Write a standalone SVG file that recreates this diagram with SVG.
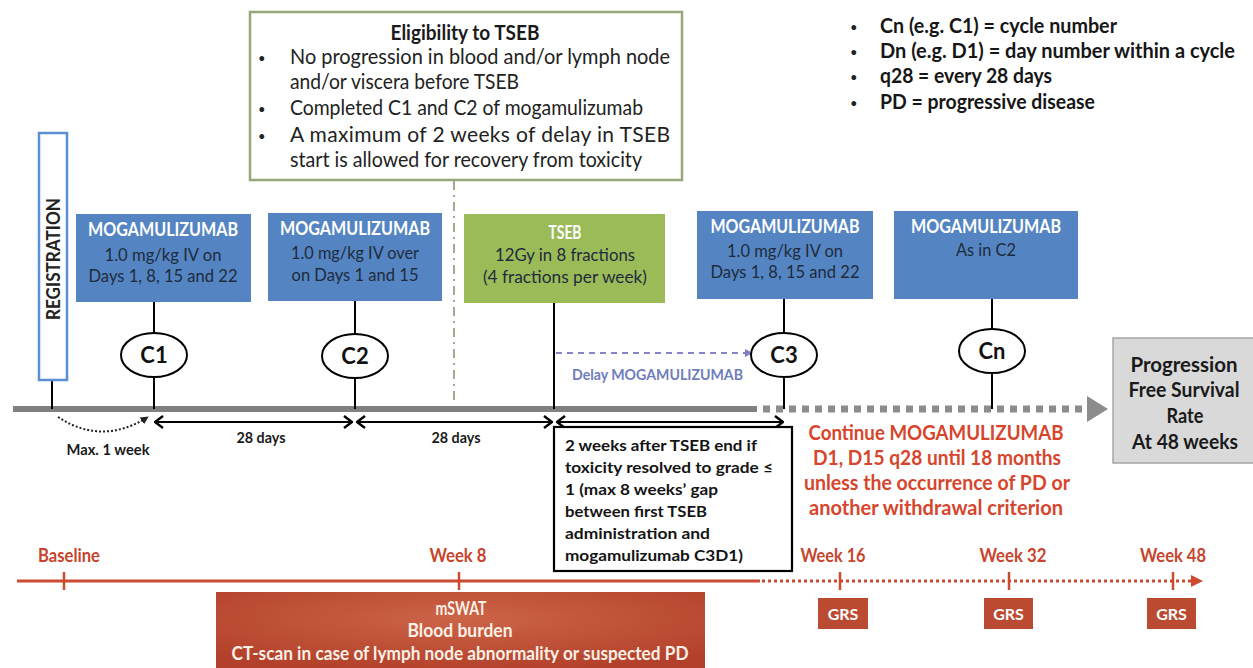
<svg xmlns="http://www.w3.org/2000/svg" width="1253" height="668" viewBox="0 0 1253 668">
<defs>
<style>
text{font-family:Lato,'Liberation Sans',sans-serif;}
.b{font-weight:bold}
.box{fill:#5485c2}
.wt{fill:#ffffff;font-weight:bold;font-size:18px;text-anchor:middle}
.dk{fill:#1e2b3c;font-size:18px;text-anchor:middle}
.cyc{fill:#ffffff;stroke:#000;stroke-width:2}
.ct{font-size:22px;font-weight:bold;text-anchor:middle;fill:#111}
.vl{stroke:#000;stroke-width:2}
.el{font-size:21px;fill:#222}
.bul{font-size:13px;fill:#222}
.lg{font-size:20px;font-weight:bold;fill:#161616}
.tw{font-size:16px;font-weight:bold;fill:#141414}
.cont{font-size:21px;font-weight:bold;fill:#d6452c;text-anchor:middle}
.wk{font-size:18px;font-weight:bold;fill:#c8452d;text-anchor:middle}
.grs{fill:#bb4a32}
.grst{font-size:16px;font-weight:bold;fill:#fff;text-anchor:middle}
.ms{font-size:18px;font-weight:bold;fill:#fdf0e6;text-anchor:middle}
.lbl{font-size:15.5px;font-weight:bold;fill:#1a1a1a;text-anchor:middle}
.dbl{stroke:#000;stroke-width:2.2;fill:none;marker-start:url(#chev);marker-end:url(#chev)}
.tick{stroke:#cc4a30;stroke-width:2.5}
</style>
<marker id="chev" viewBox="0 0 10 14" refX="9" refY="7" markerWidth="10" markerHeight="14" markerUnits="userSpaceOnUse" orient="auto-start-reverse">
<path d="M1,1 L9,7 L1,13" fill="none" stroke="#000" stroke-width="2.4"/>
</marker>
<marker id="tri" viewBox="0 0 10 10" refX="9" refY="5" markerWidth="8" markerHeight="8" markerUnits="userSpaceOnUse" orient="auto">
<path d="M0,0 L10,5 L0,10 Z" fill="#7f7fc4"/>
</marker>
<marker id="triK" viewBox="0 0 10 10" refX="9" refY="5" markerWidth="8" markerHeight="8" markerUnits="userSpaceOnUse" orient="auto">
<path d="M0,0 L10,5 L0,10 Z" fill="#222"/>
</marker>
<radialGradient id="msg" cx="0.5" cy="0.35" r="0.7">
<stop offset="0" stop-color="#cc6448"/>
<stop offset="1" stop-color="#b3402a"/>
</radialGradient>
</defs>
<rect width="1253" height="668" fill="#ffffff"/>

<g id="connectors">
<line x1="13" y1="409" x2="757" y2="409" stroke="#808080" stroke-width="6"/>
<line x1="763" y1="409" x2="1086" y2="409" stroke="#8c8c8c" stroke-width="7" stroke-dasharray="7 6"/>
<path d="M1087,396 L1108,409 L1087,422 Z" fill="#8c8c8c"/>
<line x1="454" y1="181" x2="454" y2="405" stroke="#a8a890" stroke-width="2" stroke-dasharray="9 5 2 5"/>
<line class="vl" x1="52" y1="380" x2="52" y2="409"/>
<line class="vl" x1="154" y1="302" x2="154" y2="333"/>
<line class="vl" x1="154" y1="377" x2="154" y2="409"/>
<line class="vl" x1="355" y1="301" x2="355" y2="334"/>
<line class="vl" x1="355" y1="378" x2="355" y2="409"/>
<line class="vl" x1="554" y1="303" x2="554" y2="409"/>
<line class="vl" x1="784" y1="299" x2="784" y2="333"/>
<line class="vl" x1="784" y1="377" x2="784" y2="409"/>
<line class="vl" x1="992" y1="299" x2="992" y2="329"/>
<line class="vl" x1="992" y1="373" x2="992" y2="409"/>
<line x1="556" y1="353" x2="752" y2="353" stroke="#8585c8" stroke-width="1.8" stroke-dasharray="6 5" marker-end="url(#tri)"/>
<line class="dbl" x1="155" y1="422" x2="352" y2="422"/>
<line class="dbl" x1="357" y1="422" x2="552" y2="422"/>
<line class="dbl" x1="557" y1="422" x2="783" y2="422"/>
<path d="M58,417 Q102,446 148,417" fill="none" stroke="#222" stroke-width="2" stroke-dasharray="2 2" marker-end="url(#triK)"/>
<line x1="17" y1="581" x2="760" y2="581" stroke="#cc4a30" stroke-width="3"/>
<line x1="762" y1="581" x2="1192" y2="581" stroke="#cc4a30" stroke-width="3" stroke-dasharray="3 3"/>
<path d="M1191,575 L1203,581 L1191,587 Z" fill="#cc4a30"/>
<line class="tick" x1="64" y1="572" x2="64" y2="590"/>
<line class="tick" x1="459" y1="572" x2="459" y2="590"/>
<line class="tick" x1="840" y1="572" x2="840" y2="590"/>
<line class="tick" x1="1009" y1="572" x2="1009" y2="590"/>
<line class="tick" x1="1173" y1="572" x2="1173" y2="590"/>
</g>

<g id="registration">
<rect x="39" y="133" width="28" height="247" fill="#fff" stroke="#5b8fd3" stroke-width="2.5"/>
<text transform="translate(60,259) rotate(-90)" class="b" font-size="19.5" text-anchor="middle" textLength="122" lengthAdjust="spacingAndGlyphs" fill="#222">REGISTRATION</text>
</g>

<g id="eligibility">
<rect x="250" y="12" width="432" height="168" fill="#fff" stroke="#94a878" stroke-width="2.5"/>
<text x="465" y="40" class="b" font-size="21" text-anchor="middle" fill="#1a1a1a" textLength="149" lengthAdjust="spacingAndGlyphs">Eligibility to TSEB</text>
<text x="258" y="63" class="bul">•</text>
<text x="290" y="64" class="el" textLength="380" lengthAdjust="spacingAndGlyphs">No progression in blood and/or lymph node</text>
<text x="290" y="89" class="el" textLength="229" lengthAdjust="spacingAndGlyphs">and/or viscera before TSEB</text>
<text x="258" y="114" class="bul">•</text>
<text x="290" y="115" class="el" textLength="353" lengthAdjust="spacingAndGlyphs">Completed C1 and C2 of mogamulizumab</text>
<text x="258" y="141" class="bul">•</text>
<text x="290" y="142" class="el" textLength="380" lengthAdjust="spacing">A maximum of 2 weeks of delay in TSEB</text>
<text x="290" y="167" class="el" textLength="352" lengthAdjust="spacingAndGlyphs">start is allowed for recovery from toxicity</text>
</g>

<g id="legend">
<text x="850" y="32" class="bul">•</text>
<text x="880" y="33" class="lg" textLength="237" lengthAdjust="spacingAndGlyphs">Cn (e.g. C1) = cycle number</text>
<text x="850" y="57" class="bul">•</text>
<text x="880" y="58" class="lg" textLength="355" lengthAdjust="spacingAndGlyphs">Dn (e.g. D1) = day number within a cycle</text>
<text x="850" y="82" class="bul">•</text>
<text x="880" y="83" class="lg" textLength="172" lengthAdjust="spacingAndGlyphs">q28 = every 28 days</text>
<text x="850" y="108" class="bul">•</text>
<text x="880" y="109" class="lg" textLength="215" lengthAdjust="spacingAndGlyphs">PD = progressive disease</text>
</g>

<g id="c1-box">
<rect class="box" x="76" y="214" width="175" height="88"/>
<text class="wt" x="163" y="236" textLength="150" lengthAdjust="spacingAndGlyphs">MOGAMULIZUMAB</text>
<text class="dk" x="163" y="261" textLength="117" lengthAdjust="spacingAndGlyphs">1.0 mg/kg IV on</text>
<text class="dk" x="163" y="282" textLength="149" lengthAdjust="spacingAndGlyphs">Days 1, 8, 15 and 22</text>
</g>
<g id="c2-box">
<rect class="box" x="268" y="213" width="174" height="88"/>
<text class="wt" x="355" y="235" textLength="150" lengthAdjust="spacingAndGlyphs">MOGAMULIZUMAB</text>
<text class="dk" x="355" y="259" textLength="128" lengthAdjust="spacingAndGlyphs">1.0 mg/kg IV over</text>
<text class="dk" x="355" y="281" textLength="127" lengthAdjust="spacingAndGlyphs">on Days 1 and 15</text>
</g>
<g id="tseb-box">
<rect x="464" y="214" width="201" height="89" fill="#9bbb59"/>
<text class="wt" x="565" y="239" textLength="33" lengthAdjust="spacingAndGlyphs">TSEB</text>
<text class="dk" x="565" y="261" textLength="140" lengthAdjust="spacingAndGlyphs">12Gy in 8 fractions</text>
<text class="dk" x="565" y="283" textLength="164" lengthAdjust="spacingAndGlyphs">(4 fractions per week)</text>
</g>
<g id="c3-box">
<rect class="box" x="697" y="211" width="176" height="88"/>
<text class="wt" x="785" y="233" textLength="149" lengthAdjust="spacingAndGlyphs">MOGAMULIZUMAB</text>
<text class="dk" x="785" y="257" textLength="116" lengthAdjust="spacingAndGlyphs">1.0 mg/kg IV on</text>
<text class="dk" x="785" y="278" textLength="149" lengthAdjust="spacingAndGlyphs">Days 1, 8, 15 and 22</text>
</g>
<g id="cn-box">
<rect class="box" x="894" y="211" width="184" height="88"/>
<text class="wt" x="986" y="233" textLength="150" lengthAdjust="spacingAndGlyphs">MOGAMULIZUMAB</text>
<text class="dk" x="986" y="256" textLength="60" lengthAdjust="spacingAndGlyphs">As in C2</text>
</g>

<g id="c1"><ellipse class="cyc" cx="154" cy="355" rx="33" ry="22"/><text class="ct" x="154" y="363">C1</text></g>
<g id="c2"><ellipse class="cyc" cx="355" cy="356" rx="33" ry="22"/><text class="ct" x="355" y="364">C2</text></g>
<g id="c3"><ellipse class="cyc" cx="784" cy="355" rx="33" ry="22"/><text class="ct" x="784" y="363">C3</text></g>
<g id="cn"><ellipse class="cyc" cx="992" cy="351" rx="33" ry="22"/><text class="ct" x="992" y="359">Cn</text></g>

<g id="labels">
<text x="572" y="380" class="b" font-size="15" fill="#6f7dbd" textLength="171" lengthAdjust="spacingAndGlyphs">Delay MOGAMULIZUMAB</text>
<text class="lbl" x="261" y="443" textLength="49" lengthAdjust="spacingAndGlyphs">28 days</text>
<text class="lbl" x="456" y="443" textLength="49" lengthAdjust="spacingAndGlyphs">28 days</text>
<text class="lbl" x="108" y="455" textLength="83" lengthAdjust="spacingAndGlyphs">Max. 1 week</text>
</g>

<g id="delay-box">
<rect x="554" y="427" width="238" height="144" fill="#fff" stroke="#000" stroke-width="2.2"/>
<text class="tw" x="565" y="451" textLength="192" lengthAdjust="spacingAndGlyphs">2 weeks after TSEB end if</text>
<text class="tw" x="565" y="473" textLength="208" lengthAdjust="spacingAndGlyphs">toxicity resolved to grade ≤</text>
<text class="tw" x="565" y="495" textLength="153" lengthAdjust="spacingAndGlyphs">1 (max 8 weeks’ gap</text>
<text class="tw" x="565" y="517" textLength="142" lengthAdjust="spacingAndGlyphs">between first TSEB</text>
<text class="tw" x="565" y="539" textLength="145" lengthAdjust="spacingAndGlyphs">administration and</text>
<text class="tw" x="565" y="561" textLength="178" lengthAdjust="spacingAndGlyphs">mogamulizumab C3D1)</text>
</g>

<g id="continue">
<text class="cont" x="936" y="440" textLength="255" lengthAdjust="spacingAndGlyphs">Continue MOGAMULIZUMAB</text>
<text class="cont" x="937" y="465" textLength="248" lengthAdjust="spacingAndGlyphs">D1, D15 q28 until 18 months</text>
<text class="cont" x="937" y="490" textLength="266" lengthAdjust="spacingAndGlyphs">unless the occurrence of PD or</text>
<text class="cont" x="936" y="515" textLength="254" lengthAdjust="spacingAndGlyphs">another withdrawal criterion</text>
</g>

<g id="pfs">
<rect x="1113" y="338" width="141" height="125" fill="#d9d9d9" stroke="#a6a6a6" stroke-width="1.5"/>
<text x="1184" y="372" class="b" font-size="21.5" text-anchor="middle" fill="#1a1a1a" textLength="107" lengthAdjust="spacingAndGlyphs">Progression</text>
<text x="1184" y="397" class="b" font-size="21.5" text-anchor="middle" fill="#1a1a1a" textLength="111" lengthAdjust="spacingAndGlyphs">Free Survival</text>
<text x="1185" y="423" class="b" font-size="21.5" text-anchor="middle" fill="#1a1a1a" textLength="37" lengthAdjust="spacingAndGlyphs">Rate</text>
<text x="1185" y="449" class="b" font-size="21.5" text-anchor="middle" fill="#1a1a1a" textLength="106" lengthAdjust="spacingAndGlyphs">At 48 weeks</text>
</g>

<g id="week-labels">
<text class="wk" x="69" y="562" textLength="62" lengthAdjust="spacingAndGlyphs">Baseline</text>
<text class="wk" x="458" y="562" textLength="57" lengthAdjust="spacingAndGlyphs">Week 8</text>
<text class="wk" x="833" y="562" textLength="65" lengthAdjust="spacingAndGlyphs">Week 16</text>
<text class="wk" x="1013" y="562" textLength="67" lengthAdjust="spacingAndGlyphs">Week 32</text>
<text class="wk" x="1173" y="562" textLength="66" lengthAdjust="spacingAndGlyphs">Week 48</text>
</g>

<g id="assessment">
<rect x="216" y="592" width="489" height="76" fill="url(#msg)"/>
<text class="ms" x="461" y="615" textLength="51" lengthAdjust="spacingAndGlyphs">mSWAT</text>
<text class="ms" x="460" y="637" textLength="105" lengthAdjust="spacingAndGlyphs">Blood burden</text>
<text class="ms" x="460" y="660" textLength="457" lengthAdjust="spacingAndGlyphs">CT-scan in case of lymph node abnormality or suspected PD</text>
</g>

<g id="grs16"><rect class="grs" x="818" y="598" width="50" height="31"/><text class="grst" x="843" y="620">GRS</text></g>
<g id="grs32"><rect class="grs" x="984" y="598" width="49" height="31"/><text class="grst" x="1008.5" y="620">GRS</text></g>
<g id="grs48"><rect class="grs" x="1147" y="598" width="49" height="31"/><text class="grst" x="1171.5" y="620">GRS</text></g>
</svg>
